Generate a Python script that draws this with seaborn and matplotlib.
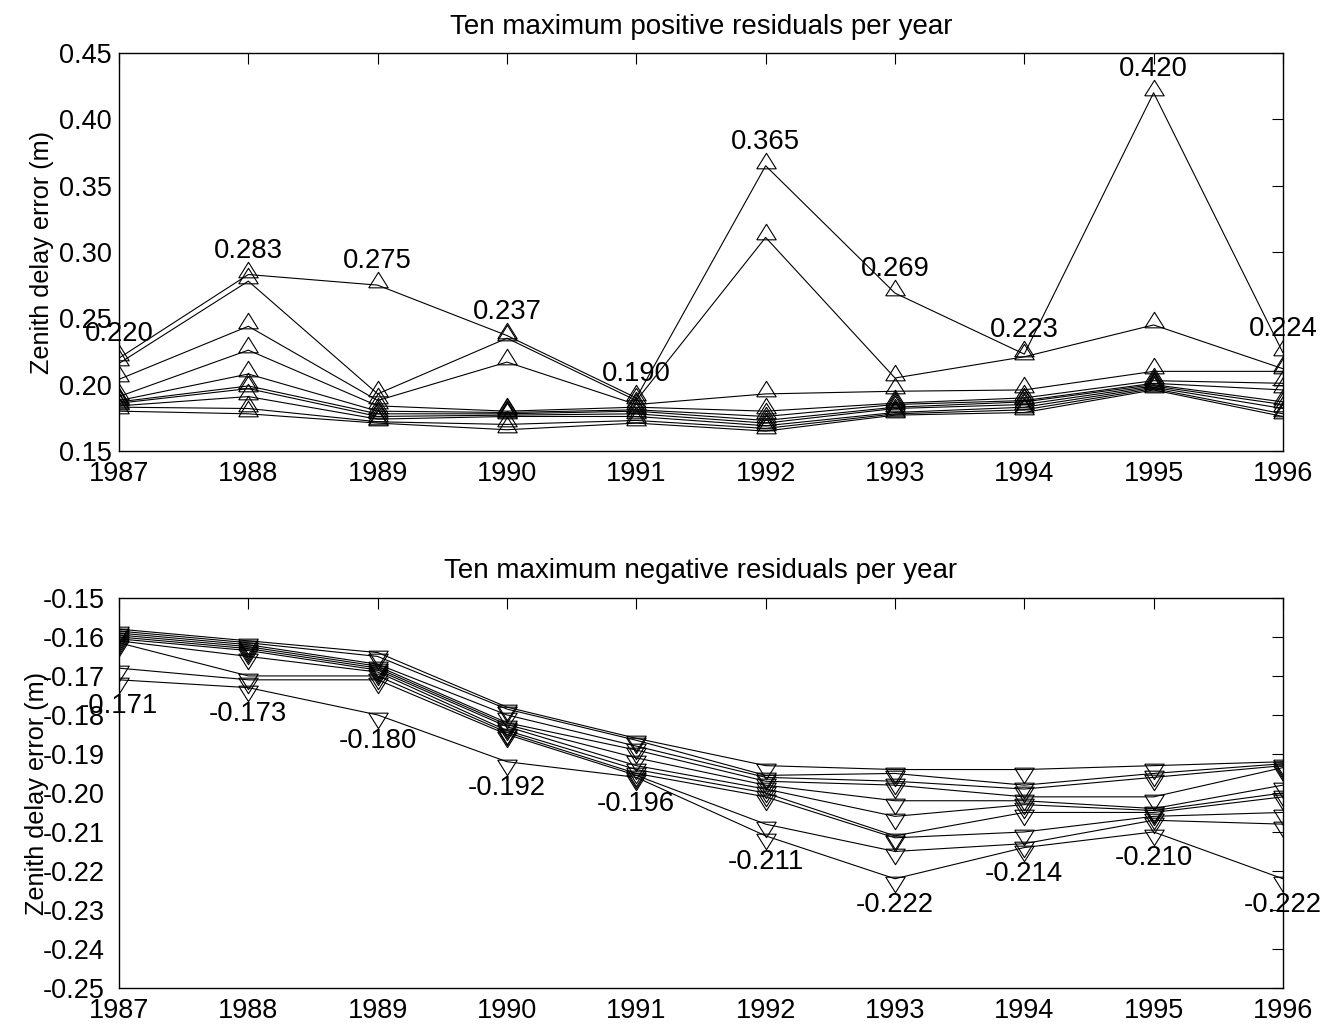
import numpy as np
import pandas as pd
import matplotlib
matplotlib.use("Agg")
import matplotlib.pyplot as plt
from matplotlib.ticker import FixedLocator, FormatStrFormatter
import seaborn as sns

# Years of the record
years = [1987, 1988, 1989, 1990, 1991, 1992, 1993, 1994, 1995, 1996]

# Ten largest positive zenith delay residuals per year (m), largest first
pos_1987 = [0.220, 0.216, 0.204, 0.191, 0.188, 0.187, 0.186, 0.184, 0.183, 0.180]
pos_1988 = [0.283, 0.278, 0.244, 0.226, 0.208, 0.199, 0.197, 0.191, 0.182, 0.178]
pos_1989 = [0.275, 0.193, 0.188, 0.184, 0.180, 0.178, 0.176, 0.174, 0.172, 0.171]
pos_1990 = [0.237, 0.235, 0.217, 0.180, 0.179, 0.178, 0.177, 0.176, 0.170, 0.166]
pos_1991 = [0.190, 0.188, 0.185, 0.183, 0.181, 0.180, 0.178, 0.176, 0.173, 0.171]
pos_1992 = [0.365, 0.311, 0.193, 0.180, 0.176, 0.173, 0.171, 0.169, 0.167, 0.165]
pos_1993 = [0.269, 0.205, 0.195, 0.186, 0.185, 0.183, 0.182, 0.179, 0.178, 0.177]
pos_1994 = [0.223, 0.221, 0.196, 0.190, 0.188, 0.187, 0.185, 0.183, 0.181, 0.179]
pos_1995 = [0.420, 0.245, 0.210, 0.203, 0.201, 0.200, 0.199, 0.198, 0.197, 0.196]
pos_1996 = [0.224, 0.212, 0.210, 0.201, 0.196, 0.187, 0.185, 0.182, 0.178, 0.176]

# Ten largest negative zenith delay residuals per year (m), smallest magnitude first
neg_1987 = [-0.158, -0.1585, -0.159, -0.1595, -0.160, -0.1605, -0.161, -0.1615, -0.168, -0.171]
neg_1988 = [-0.161, -0.1615, -0.162, -0.1625, -0.163, -0.1635, -0.165, -0.170, -0.171, -0.173]
neg_1989 = [-0.164, -0.165, -0.167, -0.1675, -0.168, -0.1685, -0.169, -0.170, -0.171, -0.180]
neg_1990 = [-0.178, -0.1785, -0.180, -0.182, -0.1825, -0.183, -0.184, -0.1845, -0.185, -0.192]
neg_1991 = [-0.186, -0.1865, -0.188, -0.189, -0.191, -0.193, -0.194, -0.195, -0.1955, -0.196]
neg_1992 = [-0.193, -0.1955, -0.196, -0.197, -0.198, -0.199, -0.200, -0.201, -0.208, -0.211]
neg_1993 = [-0.194, -0.195, -0.197, -0.198, -0.202, -0.206, -0.211, -0.2115, -0.215, -0.222]
neg_1994 = [-0.194, -0.198, -0.199, -0.201, -0.202, -0.203, -0.205, -0.210, -0.213, -0.214]
neg_1995 = [-0.193, -0.195, -0.196, -0.201, -0.204, -0.2045, -0.205, -0.206, -0.207, -0.210]
neg_1996 = [-0.192, -0.1925, -0.193, -0.1935, -0.198, -0.200, -0.201, -0.205, -0.208, -0.222]

pos_by_year = [pos_1987, pos_1988, pos_1989, pos_1990, pos_1991,
               pos_1992, pos_1993, pos_1994, pos_1995, pos_1996]
neg_by_year = [neg_1987, neg_1988, neg_1989, neg_1990, neg_1991,
               neg_1992, neg_1993, neg_1994, neg_1995, neg_1996]

pos_yticks = [0.15, 0.20, 0.25, 0.30, 0.35, 0.40, 0.45]
neg_yticks = [-0.15, -0.16, -0.17, -0.18, -0.19, -0.20, -0.21, -0.22, -0.23, -0.24, -0.25]


def to_long(values_by_year):
    rows = []
    for yr, vals in zip(years, values_by_year):
        for rank, v in enumerate(vals, start=1):
            rows.append({"year": yr, "rank": rank, "value": v})
    return pd.DataFrame(rows)


pos_df = to_long(pos_by_year)
neg_df = to_long(neg_by_year)

sns.set_theme(style="white")
plt.rcParams["font.family"] = ["Liberation Sans", "DejaVu Sans"]
plt.rcParams["axes.unicode_minus"] = False
plt.rcParams["text.color"] = "black"
plt.rcParams["axes.labelcolor"] = "black"

# Hollow triangles whose base sits close to the data point
tri_up = [(-0.625, -0.15), (0.625, -0.15), (0.0, 0.85), (-0.625, -0.15)]
tri_down = [(-0.625, 0.15), (0.625, 0.15), (0.0, -0.85), (-0.625, 0.15)]

fig = plt.figure(figsize=(13.31, 10.27), dpi=100)
ax_top = fig.add_axes([0.0894, 0.5609, 0.8745, 0.3875])
ax_bot = fig.add_axes([0.0894, 0.0380, 0.8745, 0.3798])

tick_fs = 19.5
title_fs = 20
label_fs = 19.8
ylabel_fs = 18.2

line_kw = dict(color="black", linewidth=0.8, markersize=19,
               markerfacecolor="none", markeredgecolor="black",
               markeredgewidth=0.8, legend=False)

sns.lineplot(data=pos_df, x="year", y="value", units="rank", estimator=None,
             sort=False, marker=tri_up, ax=ax_top, **line_kw)
sns.lineplot(data=neg_df, x="year", y="value", units="rank", estimator=None,
             sort=False, marker=tri_down, ax=ax_bot, **line_kw)

# Annotate the extreme value of each year
for yr, vals in zip(years, pos_by_year):
    m = max(vals)
    ax_top.annotate(f"{m:.3f}", xy=(yr, m), xytext=(0, 12), textcoords="offset points",
                    ha="center", va="baseline", fontsize=label_fs, color="black")
for yr, vals in zip(years, neg_by_year):
    m = min(vals)
    ax_bot.annotate(f"{m:.3f}", xy=(yr, m), xytext=(0, -24), textcoords="offset points",
                    ha="center", va="baseline", fontsize=label_fs, color="black")

for ax, yt, title, ypad, lab_x in [
    (ax_top, pos_yticks, "Ten maximum positive residuals per year", 5, -0.056),
    (ax_bot, neg_yticks, "Ten maximum negative residuals per year", 10, -0.060),
]:
    ax.set_xlim(years[0], years[-1])
    ax.set_ylim(min(yt), max(yt))
    ax.xaxis.set_major_locator(FixedLocator(years))
    ax.yaxis.set_major_locator(FixedLocator(yt))
    ax.yaxis.set_major_formatter(FormatStrFormatter("%.2f"))
    ax.xaxis.set_major_formatter(FormatStrFormatter("%d"))
    ax.tick_params(axis="both", direction="in", top=True, right=True,
                   length=8, width=0.8, color="black", labelsize=tick_fs,
                   labelcolor="black")
    ax.tick_params(axis="y", pad=ypad)
    ax.tick_params(axis="x", pad=7)
    for sp in ax.spines.values():
        sp.set_visible(True)
        sp.set_color("black")
        sp.set_linewidth(1.0)
    ax.set_xlabel("")
    ax.set_ylabel("Zenith delay error (m)", fontsize=ylabel_fs, color="black")
    ax.yaxis.set_label_coords(lab_x, 0.5)
    ax.set_title(title, fontsize=title_fs, color="black", pad=14)
    ax.grid(False)

fig.savefig("out.png", dpi=100, facecolor="white")
